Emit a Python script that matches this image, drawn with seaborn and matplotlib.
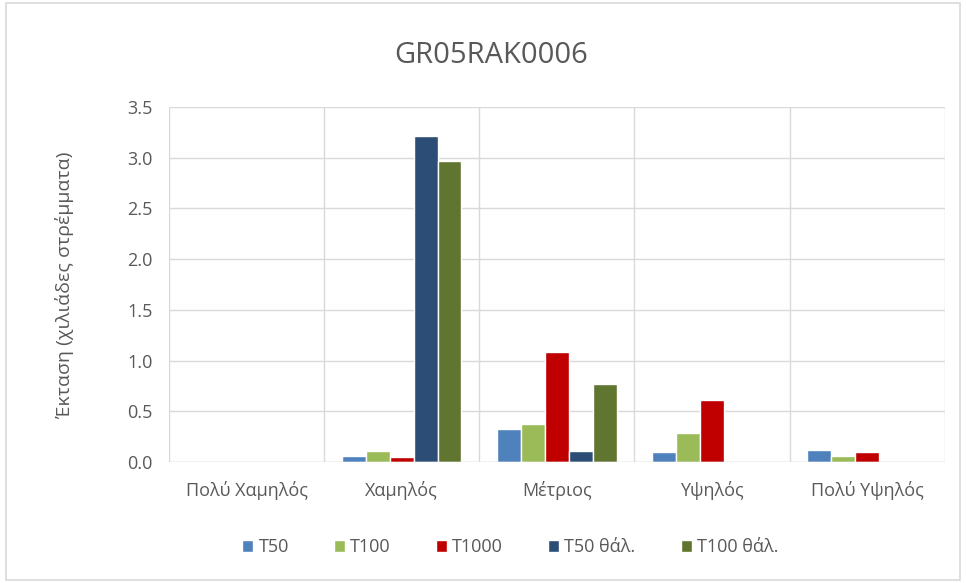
import matplotlib
matplotlib.use("Agg")
import matplotlib.pyplot as plt
import seaborn as sns
import pandas as pd
from matplotlib.patches import Rectangle

categories = ["Πολύ Χαμηλός", "Χαμηλός", "Μέτριος", "Υψηλός", "Πολύ Υψηλός"]
series_names = ["T50", "T100", "T1000", "T50 θάλ.", "T100 θάλ."]
t50 = [0.0, 0.06, 0.33, 0.10, 0.12]
t100 = [0.0, 0.11, 0.37, 0.29, 0.06]
t1000 = [0.0, 0.05, 1.08, 0.61, 0.10]
t50_sea = [0.0, 3.21, 0.11, 0.0, 0.0]
t100_sea = [0.0, 2.97, 0.77, 0.0, 0.0]
colors = ["#4F81BD", "#9BBB59", "#C00000", "#2C4D75", "#5F7530"]
yticks = [0.0, 0.5, 1.0, 1.5, 2.0, 2.5, 3.0, 3.5]

rows = []
for name, vals in zip(series_names, [t50, t100, t1000, t50_sea, t100_sea]):
    for c, v in zip(categories, vals):
        rows.append({"cat": c, "series": name, "val": v})
df = pd.DataFrame(rows)

sns.set_style("white")
plt.rcParams["font.family"] = ["Open Sans", "DejaVu Sans"]

fig = plt.figure(figsize=(9.66, 5.83), dpi=100)
ax = fig.add_axes([0.175, 0.2075, 0.803, 0.609])

sns.barplot(data=df, x="cat", y="val", hue="series", order=categories,
            hue_order=series_names, palette=colors, width=0.77,
            saturation=1, ax=ax, legend=True, zorder=3)

ax.set_ylim(0, 3.5)
ax.set_xlim(-0.5, len(categories) - 0.5)
ax.set_yticks(yticks)
ax.set_yticklabels([f"{v:.1f}" for v in yticks], color="#595959", fontsize=13)
ax.tick_params(axis="x", colors="#595959", labelsize=13, length=0, pad=14)
ax.tick_params(axis="y", length=0, pad=12)
ax.set_xlabel("")
ax.set_ylabel("Έκταση (χιλιάδες στρέμματα)", color="#595959", fontsize=14, labelpad=38)
ax.yaxis.grid(True, color="#D9D9D9", linewidth=1, zorder=0)
for b in range(len(categories) + 1):
    ax.axvline(b - 0.5, color="#D9D9D9", linewidth=1, zorder=0)
for s in ax.spines.values():
    s.set_visible(False)
ax.axhline(0, color="#D9D9D9", linewidth=1, zorder=4)

fig.text(0.508, 0.905, "GR05RAK0006", fontsize=21, color="#595959",
         ha="center", va="center")

leg = ax.legend(loc="center", bbox_to_anchor=(0.44, -0.24), ncol=5,
                frameon=False, fontsize=13, handlelength=0.6, handleheight=0.6,
                handletextpad=0.3, columnspacing=2.5)
for t in leg.get_texts():
    t.set_color("#595959")

fig.patches.append(Rectangle((0.006, 0.006), 0.988, 0.988, transform=fig.transFigure,
                             fill=False, edgecolor="#D9D9D9", linewidth=1.2))

fig.savefig("out.png", dpi=100)
